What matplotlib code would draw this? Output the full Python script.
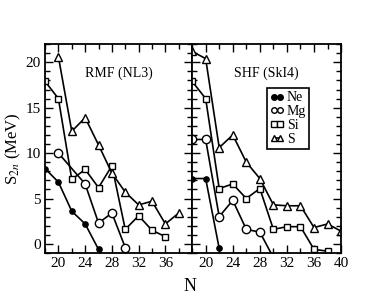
import matplotlib
matplotlib.use("Agg")
import matplotlib.pyplot as plt
from matplotlib.ticker import MultipleLocator

plt.rcParams['font.family'] = ['Liberation Serif', 'DejaVu Serif']
plt.rcParams['mathtext.fontset'] = 'stix'

# RMF (NL3)
rmf_ne_n = [18, 20, 22, 24, 26]
rmf_ne = [8.3, 6.8, 3.6, 2.2, -0.6]
rmf_mg_n = [20, 24, 26, 28, 30]
rmf_mg = [10.0, 6.6, 2.3, 3.4, -0.4]
rmf_si_n = [18, 20, 22, 24, 26, 28, 30, 32, 34, 36]
rmf_si = [17.9, 16.0, 7.1, 8.2, 6.2, 8.6, 1.6, 3.1, 1.5, 0.8]
rmf_s_n = [20, 22, 24, 26, 28, 30, 32, 34, 36, 38]
rmf_s = [20.6, 12.4, 13.9, 10.9, 7.8, 5.7, 4.3, 4.7, 2.2, 3.4]

# SHF (SkI4)
shf_ne_n = [18, 20, 22]
shf_ne = [7.2, 7.2, -0.5]
shf_mg_n = [18, 20, 22, 24, 26, 28, 30]
shf_mg = [11.5, 11.5, 3.0, 4.8, 1.6, 1.3, -1.5]
shf_si_n = [18, 20, 22, 24, 26, 28, 30, 32, 34, 36, 38]
shf_si = [17.9, 16.0, 6.1, 6.6, 5.0, 6.1, 1.6, 1.9, 1.9, -0.6, -0.8]
shf_s_n = [18, 20, 22, 24, 26, 28, 30, 32, 34, 36, 38, 40]
shf_s = [21.2, 20.4, 10.6, 12.0, 9.0, 7.2, 4.3, 4.2, 4.2, 1.8, 2.2, 1.4]

labels = ['Ne', 'Mg', 'Si', 'S']
markers = ['o', 'o', 's', '^']
msizes = [3.8, 6.0, 4.8, 6.0]
faces = ['black', 'white', 'white', 'white']

fig = plt.figure(figsize=(3.85, 2.98), dpi=100)
ax1 = fig.add_axes([0.117, 0.151, 0.382, 0.701])
ax2 = fig.add_axes([0.499, 0.151, 0.387, 0.701])

panels = [
    (ax1, [(rmf_ne_n, rmf_ne), (rmf_mg_n, rmf_mg), (rmf_si_n, rmf_si), (rmf_s_n, rmf_s)], 'RMF (NL3)'),
    (ax2, [(shf_ne_n, shf_ne), (shf_mg_n, shf_mg), (shf_si_n, shf_si), (shf_s_n, shf_s)], 'SHF (SkI4)'),
]

for ax, series, title in panels:
    for (n, s), lab, m, ms, fc in zip(series, labels, markers, msizes, faces):
        ax.plot(n, s, color='black', lw=1.2, marker=m, ms=ms, mfc=fc,
                mec='black', mew=1.0, label=lab)
    ax.set_xlim(18, 40)
    ax.set_ylim(-1, 22)
    ax.xaxis.set_minor_locator(MultipleLocator(2))
    ax.yaxis.set_major_locator(MultipleLocator(5))
    ax.yaxis.set_minor_locator(MultipleLocator(1))
    ax.tick_params(which='both', direction='in', top=True, right=True,
                   labelsize=11, width=1.0)
    ax.tick_params(which='major', length=6, pad=3)
    ax.tick_params(which='minor', length=3.5)
    for sp in ax.spines.values():
        sp.set_linewidth(1.3)
    ax.text(0.5, 0.86, title, transform=ax.transAxes, ha='center',
            va='center', fontsize=10)

ax1.set_xticks([20, 24, 28, 32, 36])
ax2.set_xticks([20, 24, 28, 32, 36, 40])
ax2.tick_params(labelleft=False)
ax1.set_ylabel(r'S$_{2n}$ (MeV)', fontsize=12, labelpad=2)
fig.text(0.493, 0.04, 'N', ha='center', va='center', fontsize=13)

leg = ax2.legend(loc='upper left', bbox_to_anchor=(0.5, 0.79), numpoints=2,
                 handlelength=1.0, handletextpad=0.2, borderpad=0.25,
                 labelspacing=0.05, fontsize=10, frameon=True, fancybox=False,
                 framealpha=1, borderaxespad=0)
leg.get_frame().set_edgecolor('black')
leg.get_frame().set_linewidth(1.2)
for h in leg.legend_handles:
    h.set_markersize(4)

fig.savefig('out.png', dpi=100)
